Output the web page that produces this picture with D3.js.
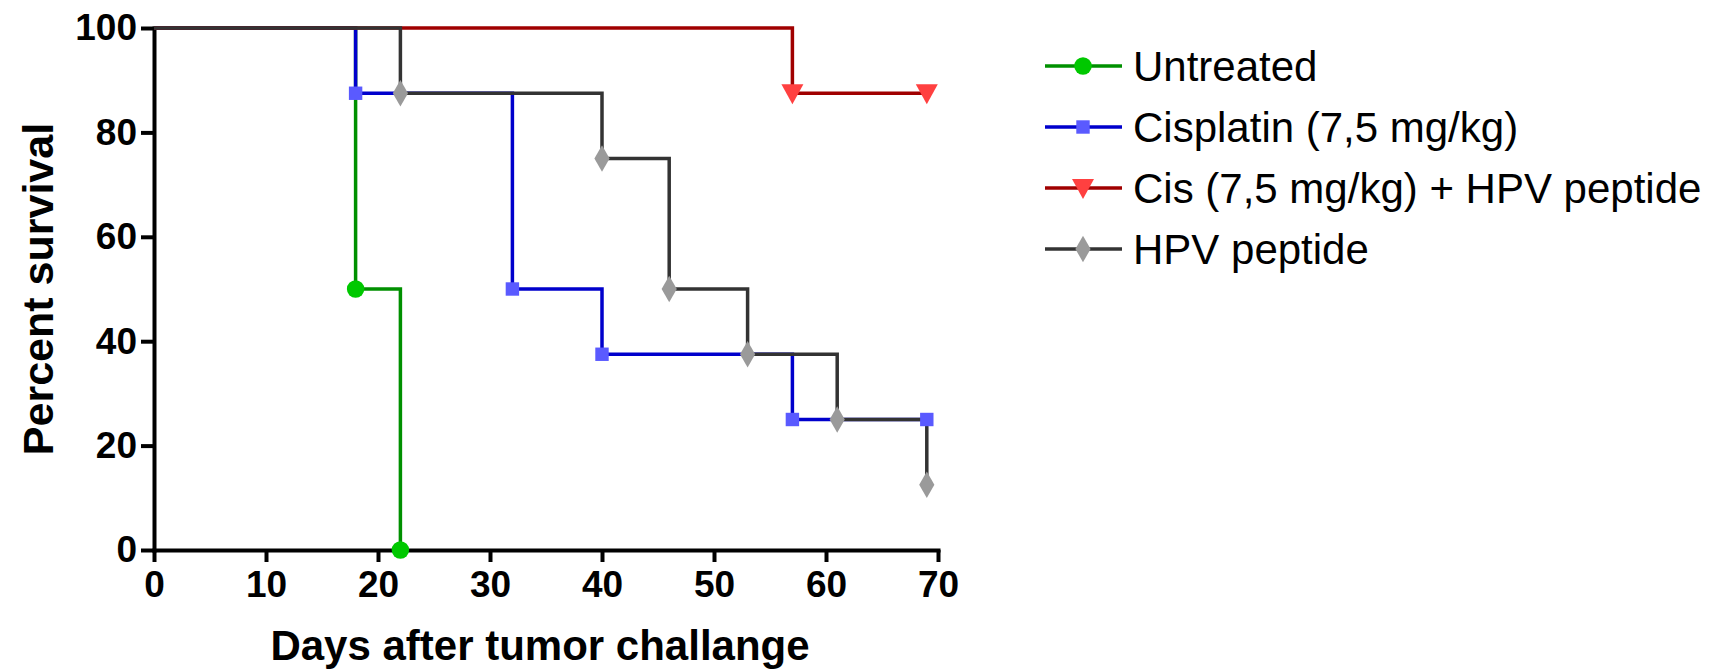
<!DOCTYPE html>
<html>
<head>
<meta charset="utf-8">
<script src="https://cdn.jsdelivr.net/npm/d3@7"></script>
<style>
  body { margin: 0; background: #fff; }
  text { font-family: "Liberation Sans", Arial, sans-serif; }
  .axis path, .axis line { stroke: #000; stroke-width: 4; }
  .axis text { font-size: 37px; font-weight: bold; fill: #000; }
</style>
</head>
<body>
<script>
var width = 1722,
    height = 672;

var margin = {top: 28, left: 154},
    plotW = 784,
    plotH = 522;

// Kaplan-Meier steps: day of each event, survival after it
var seriesNames = ["Untreated", "Cisplatin (7,5 mg/kg)", "Cis (7,5 mg/kg) + HPV peptide", "HPV peptide"];

var untreatedDays = [0, 18, 22],
    untreatedSurv = [100, 50, 0];

var cisplatinDays = [0, 18, 32, 40, 57, 69],
    cisplatinSurv = [100, 87.5, 50, 37.5, 25, 25];

var comboDays = [0, 57, 69],
    comboSurv = [100, 87.5, 87.5];

var hpvDays = [0, 22, 40, 46, 53, 61, 69],
    hpvSurv = [100, 87.5, 75, 50, 37.5, 25, 12.5];

var xTicks = [0, 10, 20, 30, 40, 50, 60, 70],
    yTicks = [0, 20, 40, 60, 80, 100];

var series = [
  {name: seriesNames[0], days: untreatedDays, surv: untreatedSurv, line: "#009000", fill: "#00c800", symbol: d3.symbolCircle, size: 240},
  {name: seriesNames[1], days: cisplatinDays, surv: cisplatinSurv, line: "#0000cc", fill: "#5a5aff", symbol: d3.symbolSquare, size: 180},
  {name: seriesNames[2], days: comboDays, surv: comboSurv, line: "#a00000", fill: "#ff4040", symbol: "tri", size: 0},
  {name: seriesNames[3], days: hpvDays, surv: hpvSurv, line: "#333333", fill: "#9a9a9a", symbol: d3.symbolDiamond, size: 200}
];

var svg = d3.select("body").append("svg")
    .attr("width", width)
    .attr("height", height);

var x = d3.scaleLinear().domain([0, 70]).range([margin.left, margin.left + plotW]);
var y = d3.scaleLinear().domain([0, 100]).range([margin.top + plotH, margin.top]);

svg.append("g")
    .attr("class", "axis")
    .attr("transform", "translate(" + margin.left + ",0)")
    .call(d3.axisLeft(y).tickValues(yTicks).tickSize(13).tickSizeOuter(0).tickPadding(4));

svg.append("g")
    .attr("class", "axis")
    .attr("transform", "translate(0," + (margin.top + plotH) + ")")
    .call(d3.axisBottom(x).tickValues(xTicks).tickSize(12).tickSizeOuter(0).tickPadding(9));

svg.selectAll(".axis .domain").attr("stroke-linecap", "square");

var line = d3.line()
    .curve(d3.curveStepAfter)
    .x(function(d) { return x(d[0]); })
    .y(function(d) { return y(d[1]); });

function pts(s) {
  return s.days.map(function(d, i) { return [d, s.surv[i]]; });
}

function symbolPath(s) {
  if (s.symbol === "tri") return "M-11,-9L11,-9L0,11Z";
  return d3.symbol().type(s.symbol).size(s.size)();
}

series.forEach(function(s) {
  svg.append("path")
      .attr("d", line(pts(s)))
      .attr("fill", "none")
      .attr("stroke", s.line)
      .attr("stroke-width", 3.5);
});

series.forEach(function(s) {
  svg.selectAll(null)
      .data(pts(s).slice(1))
    .enter().append("path")
      .attr("d", symbolPath(s))
      .attr("transform", function(d) { return "translate(" + x(d[0]) + "," + y(d[1]) + ")"; })
      .attr("fill", s.fill);
});

// axis titles
svg.append("text")
    .attr("x", 540)
    .attr("y", 660)
    .attr("text-anchor", "middle")
    .style("font-size", "42px")
    .style("font-weight", "bold")
    .text("Days after tumor challange");

svg.append("text")
    .attr("transform", "translate(53,289)rotate(-90)")
    .attr("text-anchor", "middle")
    .style("font-size", "43px")
    .style("font-weight", "bold")
    .text("Percent survival");

// legend
var legend = svg.selectAll(".legend")
    .data(series)
  .enter().append("g")
    .attr("transform", function(d, i) { return "translate(1045," + (66 + i * 61) + ")"; });

legend.append("line")
    .attr("x1", 0).attr("x2", 77)
    .attr("stroke", function(d) { return d.line; })
    .attr("stroke-width", 3.5);

legend.append("path")
    .attr("d", symbolPath)
    .attr("transform", "translate(38,0)")
    .attr("fill", function(d) { return d.fill; });

legend.append("text")
    .attr("x", 88)
    .attr("dy", "0.35em")
    .style("font-size", "42px")
    .text(function(d) { return d.name; });
</script>
</body>
</html>
